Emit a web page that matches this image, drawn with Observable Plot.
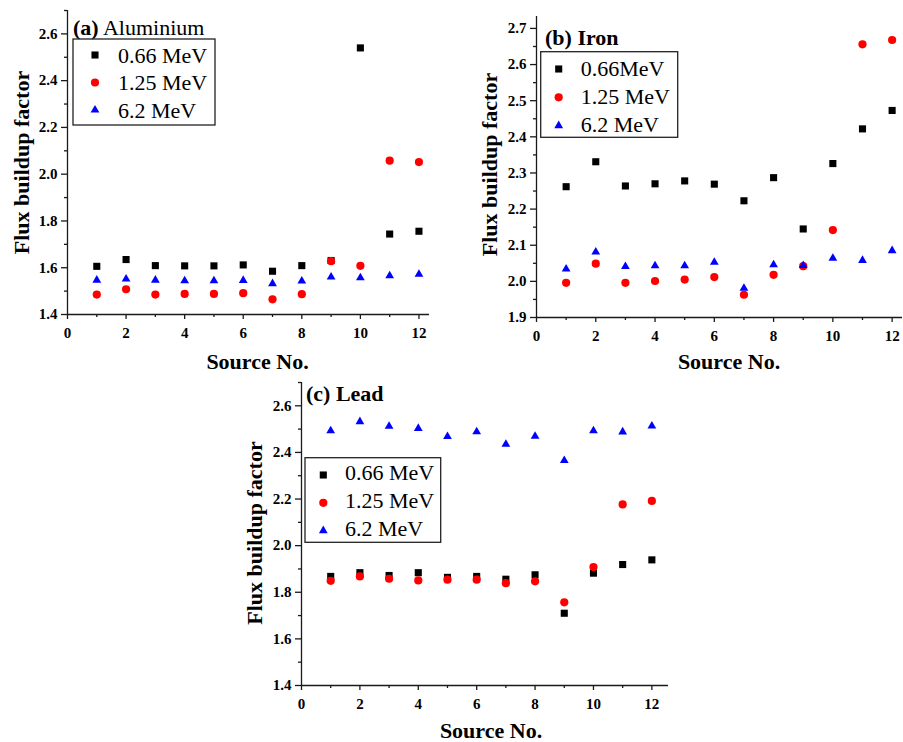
<!DOCTYPE html>
<html><head><meta charset="utf-8">
<script src="https://cdn.jsdelivr.net/npm/d3@7"></script>
<script src="https://cdn.jsdelivr.net/npm/@observablehq/plot@0.6"></script>
<style>
body{margin:0;background:#fff;}
#fig{position:relative;width:903px;height:742px;overflow:hidden;background:#fff;}
.panel{position:absolute;}
.panel svg{overflow:visible;}
</style></head><body><div id="fig"></div>
<script>
// ---- data ----
const sources = [1,2,3,4,5,6,7,8,9,10,11,12];
const energies = ["0.66 MeV","1.25 MeV","6.2 MeV"];
const legendLabelsA = ["0.66 MeV","1.25 MeV","6.2 MeV"];
const legendLabelsB = ["0.66MeV","1.25 MeV","6.2 MeV"];
const legendLabelsC = ["0.66 MeV","1.25 MeV","6.2 MeV"];

const al_066 = [1.606,1.635,1.609,1.608,1.608,1.612,1.585,1.609,1.631,2.540,1.744,1.756];
const al_125 = [1.485,1.508,1.485,1.488,1.488,1.491,1.465,1.487,1.628,1.608,2.058,2.052];
const al_62  = [1.547,1.552,1.547,1.544,1.544,1.546,1.532,1.543,1.560,1.557,1.566,1.572];

const fe_066 = [2.262,2.331,2.264,2.270,2.278,2.269,2.223,2.287,2.145,2.326,2.422,2.473];
const fe_125 = [1.996,2.049,1.996,2.001,2.005,2.012,1.963,2.018,2.042,2.142,2.656,2.668];
const fe_62  = [2.034,2.081,2.041,2.043,2.043,2.053,1.981,2.046,2.044,2.064,2.058,2.085];

const pb_066 = [1.868,1.884,1.872,1.884,1.864,1.868,1.856,1.875,1.710,1.882,1.919,1.939];
const pb_125 = [1.849,1.868,1.858,1.851,1.854,1.854,1.839,1.847,1.757,1.908,2.177,2.192];
const pb_62  = [2.493,2.532,2.512,2.503,2.468,2.489,2.435,2.469,2.365,2.493,2.488,2.513];

const xMajorTicks = [0,2,4,6,8,10,12];
const xMinorTicks = [1,3,5,7,9,11];
const yMajorAC = [1.4,1.6,1.8,2.0,2.2,2.4,2.6];
const yMinorAC = [1.5,1.7,1.9,2.1,2.3,2.5,2.7];
const yMajorB = [1.9,2.0,2.1,2.2,2.3,2.4,2.5,2.6,2.7];
const yMinorB = [1.95,2.05,2.15,2.25,2.35,2.45,2.55,2.65];

const xTitle = "Source No.";
const yTitle = "Flux buildup factor";

// ---- style ----
const SERIF = "'Liberation Serif','Times New Roman',Times,serif";
const AX = "#1a1a1a";
const colors = ["#000000","#ff0000","#0000ff"];
const symbols = ["square","circle","triangle"];
const radii = [4,4.1,3.25];
const d3sym = {square: d3.symbolSquare, circle: d3.symbolCircle, triangle: d3.symbolTriangle};

function makePanel(cfg) {
  const table = sources.flatMap((s, i) => cfg.series.map((vals, k) => ({source: s, energy: energies[k], value: vals[i]})));
  const dots = energies.map((e, k) => Plot.dot(table.filter(d => d.energy === e), {
    x: "source", y: "value", symbol: () => symbols[k], fill: colors[k], r: radii[k]
  }));
  const axStyle = {stroke: AX, strokeWidth: 1.3};
  const plot = Plot.plot({
    width: cfg.width, height: cfg.height,
    marginLeft: cfg.m[0], marginTop: cfg.m[1], marginRight: cfg.m[2], marginBottom: cfg.m[3],
    x: {domain: cfg.xDomain},
    y: {domain: cfg.yDomain},
    symbol: {type: "identity"},
    style: {fontFamily: SERIF, color: "#000", background: "transparent", fontSize: "15px"},
    marks: [
      Plot.axisX({ticks: xMajorTicks, tickSize: 5, tickPadding: 8, tickFormat: d => String(d), label: null, fontSize: 15, fontWeight: "bold", ...axStyle}),
      Plot.axisX({ticks: xMinorTicks, tickSize: 3, tickFormat: () => "", label: null, ...axStyle}),
      Plot.axisY({ticks: cfg.yMajor, tickSize: 6, tickPadding: 4, tickFormat: d3.format(".1f"), label: null, fontSize: 15, fontWeight: "bold", ...axStyle}),
      Plot.axisY({ticks: cfg.yMinor, tickSize: 3, tickFormat: () => "", label: null, ...axStyle}),
      Plot.ruleY([cfg.yDomain[0]], axStyle),
      Plot.ruleX([0], axStyle),
      ...dots,
      Plot.text([xTitle], {text: d => d, frameAnchor: "bottom", textAnchor: "middle", lineAnchor: "bottom", dx: cfg.xt[0], dy: cfg.xt[1], fontSize: 22, fontWeight: "bold", fontFamily: SERIF}),
      Plot.text([yTitle], {text: d => d, frameAnchor: "left", textAnchor: "middle", rotate: -90, lineAnchor: "bottom", dx: cfg.yt[0], dy: cfg.yt[1], fontSize: 22, fontWeight: "bold", fontFamily: SERIF})
    ]
  });
  // legend + panel label
  const svg = d3.select(plot);
  const g = svg.append("g").attr("font-family", SERIF).attr("font-size", 22).attr("text-anchor", "start");
  const lab = g.append("text").attr("x", cfg.label.x).attr("y", cfg.label.y).attr("fill", "#000").attr("text-anchor", "start");
  lab.append("tspan").attr("font-weight", "bold").text(cfg.label.tag);
  lab.append("tspan").attr("font-weight", cfg.label.boldName ? "bold" : "normal").text(" " + cfg.label.name);
  const L = cfg.legend;
  g.append("rect").attr("x", L.box[0]).attr("y", L.box[1]).attr("width", L.box[2]).attr("height", L.box[3])
    .attr("fill", "none").attr("stroke", "#222").attr("stroke-width", 1.3);
  cfg.legendLabels.forEach((t, k) => {
    const sy = L.symY + k * L.step;
    g.append("path").attr("transform", `translate(${L.symX},${sy})`)
      .attr("d", d3.symbol(d3sym[symbols[k]], radii[k] * radii[k] * Math.PI)()).attr("fill", colors[k]);
    g.append("text").attr("x", L.textX).attr("y", L.textY + k * L.step).attr("fill", "#000").attr("text-anchor", "start").text(t);
  });
  const div = document.createElement("div");
  div.className = "panel";
  div.style.left = cfg.left + "px";
  div.style.top = cfg.top + "px";
  div.appendChild(plot);
  document.getElementById("fig").appendChild(div);
}

makePanel({
  series: [al_066, al_125, al_62], left: 0, top: 0, width: 450, height: 370,
  m: [67, 10, 21, 56], xDomain: [0, 12.36], yDomain: [1.4, 2.7],
  yMajor: yMajorAC, yMinor: yMinorAC,
  xt: [9, 54], yt: [-38.5, 0],
  label: {x: 73, y: 35, tag: "(a)", name: "Aluminium", boldName: false},
  legend: {box: [73, 39, 142, 86], symX: 95, symY: 55, step: 27.5, textX: 118, textY: 62.7},
  legendLabels: legendLabelsA
});
makePanel({
  series: [fe_066, fe_125, fe_62], left: 450, top: 0, width: 453, height: 370,
  m: [86, 16, 1, 53], xDomain: [0, 12.35], yDomain: [1.9, 2.733],
  yMajor: yMajorB, yMinor: yMinorB,
  xt: [9.5, 51], yt: [-39.3, -2.5],
  label: {x: 95, y: 45, tag: "(b)", name: "Iron", boldName: true},
  legend: {box: [90.7, 51.7, 137, 85.6], symX: 108.7, symY: 69, step: 28.3, textX: 130.7, textY: 75.5},
  legendLabels: legendLabelsB
});
makePanel({
  series: [pb_066, pb_125, pb_62], left: 240, top: 370, width: 440, height: 372,
  m: [61, 12, 12, 57], xDomain: [0, 12.57], yDomain: [1.4, 2.7],
  yMajor: yMajorAC, yMinor: yMinorAC,
  xt: [6, 52], yt: [-39.3, -1],
  label: {x: 66, y: 30.7, tag: "(c)", name: "Lead", boldName: true},
  legend: {box: [65, 87.7, 135.7, 84.6], symX: 83.3, symY: 105, step: 27.8, textX: 105, textY: 110},
  legendLabels: legendLabelsC
});
</script>
</body></html>
